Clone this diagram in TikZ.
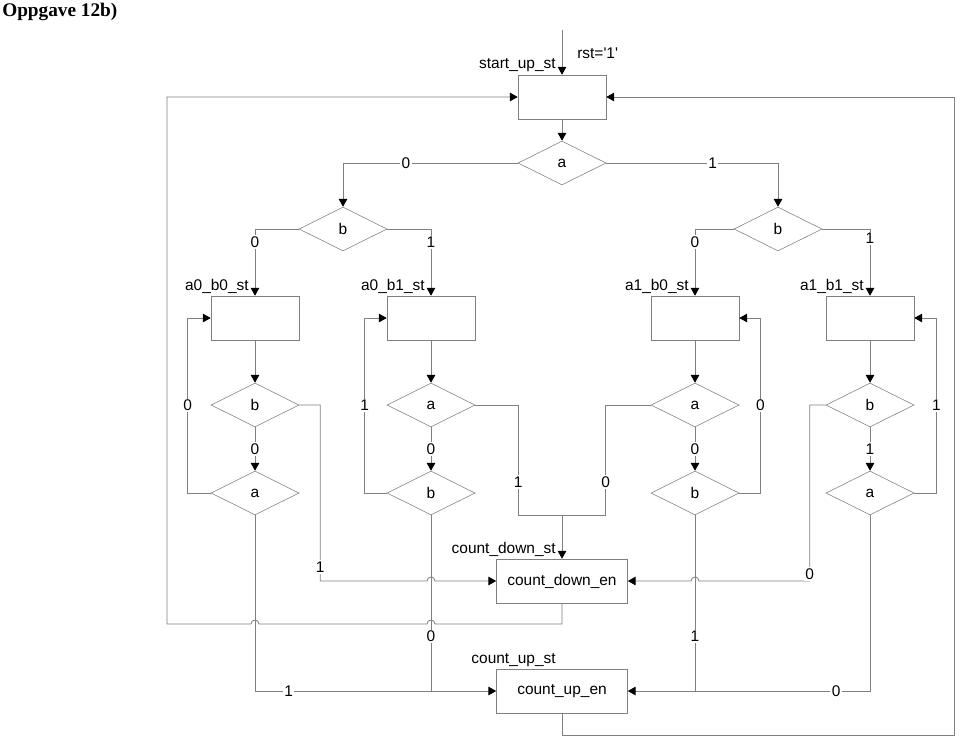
\documentclass[tikz,border=0pt]{standalone}
\usepackage{fontspec}
\setmainfont{Liberation Sans}
\newfontfamily\titlefont{Liberation Serif}
\usetikzlibrary{arrows.meta, shapes.geometric, calc}

\begin{document}
\begin{tikzpicture}[
        x=0.025cm, y=-0.025cm,
        every node/.style={font=\fontsize{11}{13}\selectfont},
        state/.style={draw=gray, rectangle, minimum width=2.2cm, minimum height=1.1cm, inner sep=0pt},
        outbox/.style={draw=gray, rectangle, minimum width=3.275cm, minimum height=1.1cm, inner sep=0pt},
        test/.style={draw=gray, diamond, minimum width=2.2cm, minimum height=1.1cm, inner sep=0pt},
        stname/.style={anchor=base east, inner sep=0pt},
        lbl/.style={fill=white, inner sep=1pt},
        line/.style={draw=gray, semithick},
        arrow/.style={line, -{Triangle[length=5.5pt, width=6pt, color=black]}}
    ]
        \useasboundingbox (0, 0) rectangle (960, 738);

        % --- title ---
        \node[font=\titlefont\bfseries\fontsize{13.7}{16}\selectfont, anchor=base west, inner sep=0pt] (title) at (2, 16) {Oppgave 12b)};

        % --- start state and first test ---
        \coordinate (rst) at (562, 30);
        \node[state] (su) at (562, 97) {};
        \node[stname] (sulbl) at (556, 68) {start\_up\_st};
        \node[anchor=base west, inner sep=0pt] (rstlbl) at (577, 58) {rst=\textquotesingle 1\textquotesingle};
        \node[test] (da) at (562, 163) {a};

        % --- b tests ---
        \node[test] (dl) at (343, 229) {b};
        \node[test] (dr) at (778, 229) {b};

        % --- the four input states ---
        \node[state] (s00) at (255, 318) {};
        \node[state] (s01) at (431, 318) {};
        \node[state] (s10) at (695, 318) {};
        \node[state] (s11) at (870, 318) {};
        \node[stname] at (249, 290) {a0\_b0\_st};
        \node[stname] at (425, 290) {a0\_b1\_st};
        \node[stname] at (689, 290) {a1\_b0\_st};
        \node[stname] at (864, 290) {a1\_b1\_st};

        % --- tests below the states ---
        \node[test] (p00) at (255, 405) {b};
        \node[test] (p01) at (431, 405) {a};
        \node[test] (p10) at (695, 405) {a};
        \node[test] (p11) at (870, 405) {b};
        \node[test] (q00) at (255, 493) {a};
        \node[test] (q01) at (431, 493) {b};
        \node[test] (q10) at (695, 493) {b};
        \node[test] (q11) at (870, 493) {a};

        % --- counting states ---
        \node[outbox] (cd) at (562, 581) {count\_down\_en};
        \node[outbox] (cu) at (562, 691) {count\_up\_en};
        \node[stname] at (556, 553) {count\_down\_st};
        \node[stname] at (556, 663) {count\_up\_st};

        \coordinate (jn) at (562, 515);
        \coordinate (bl) at (167, 624);
        \coordinate (br) at (954, 735);

        % --- top part ---
        \draw[arrow] (rst) -- (su.north);
        \draw[arrow] (su.south) -- (da.north);
        \draw[arrow] (da.west) -| node[lbl, pos=0.32] {0} (dl.north);
        \draw[arrow] (da.east) -| node[lbl, pos=0.31] {1} (dr.north);
        \draw[arrow] (dl.west) -| node[lbl, pos=0.6] {0} (s00.north);
        \draw[arrow] (dl.east) -| node[lbl, pos=0.6] {1} (s01.north);
        \draw[arrow] (dr.west) -| node[lbl, pos=0.6] {0} (s10.north);
        \draw[arrow] (dr.east) -| node[lbl, pos=0.57] {1} (s11.north);

        % --- states to tests ---
        \draw[arrow] (s00.south) -- (p00.north);
        \draw[arrow] (s01.south) -- (p01.north);
        \draw[arrow] (s10.south) -- (p10.north);
        \draw[arrow] (s11.south) -- (p11.north);
        \draw[arrow] (p00.south) -- node[lbl] {0} (q00.north);
        \draw[arrow] (p01.south) -- node[lbl] {0} (q01.north);
        \draw[arrow] (p10.south) -- node[lbl] {0} (q10.north);
        \draw[arrow] (p11.south) -- node[lbl] {1} (q11.north);

        % --- stay in state ---
        \draw[arrow] (q00.west) -- ++(-23, 0) |- node[lbl, pos=0.25] {0} (s00.west);
        \draw[arrow] (q01.west) -- ++(-22, 0) |- node[lbl, pos=0.25] {1} (s01.west);
        \draw[arrow] (q10.east) -- ++(21, 0) |- node[lbl, pos=0.25] {0} (s10.east);
        \draw[arrow] (q11.east) -- ++(22, 0) |- node[lbl, pos=0.25] {1} (s11.east);

        % --- to count_down ---
        \draw[arrow] (p00.east) -- ++(21, 0) |- node[lbl, pos=0.46] {1} ($(cd.west -| q01.south)+(-4, 0)$)
            arc[start angle=180, end angle=0, radius=0.1cm] -- (cd.west);
        \draw[line] (p01.east) -- ++(43, 0) |- node[lbl, pos=0.35] {1} (jn);
        \draw[line] (p10.west) -- ++(-45, 0) |- node[lbl, pos=0.35] {0} (jn);
        \draw[arrow] (jn) -- (cd.north);
        \draw[arrow] (p11.west) -- ++(-16, 0) |- node[lbl, pos=0.48] {0} ($(cd.east -| q10.south)+(4, 0)$)
            arc[start angle=0, end angle=180, radius=0.1cm] -- (cd.east);

        % --- to count_up ---
        \draw[arrow] (q00.south) |- node[lbl, pos=0.57] {1} (cu.west);
        \draw[line] (q01.south) -- node[lbl, pos=0.69] {0} (q01.south |- cu.west);
        \draw[line] (q10.south) -- node[lbl, pos=0.69] {1} (q10.south |- cu.east);
        \draw[arrow] (q11.south) |- node[lbl, pos=0.57] {0} (cu.east);

        % --- back to start ---
        \draw[arrow] (cd.south) |- ($(bl -| q01.south)+(4, 0)$)
            arc[start angle=0, end angle=180, radius=0.1cm]
            -- ($(bl -| q00.south)+(4, 0)$)
            arc[start angle=0, end angle=180, radius=0.1cm]
            -- (bl) |- (su.west);
        \draw[arrow] (cu.south) |- (br) |- (su.east);
\end{tikzpicture}
\end{document}
